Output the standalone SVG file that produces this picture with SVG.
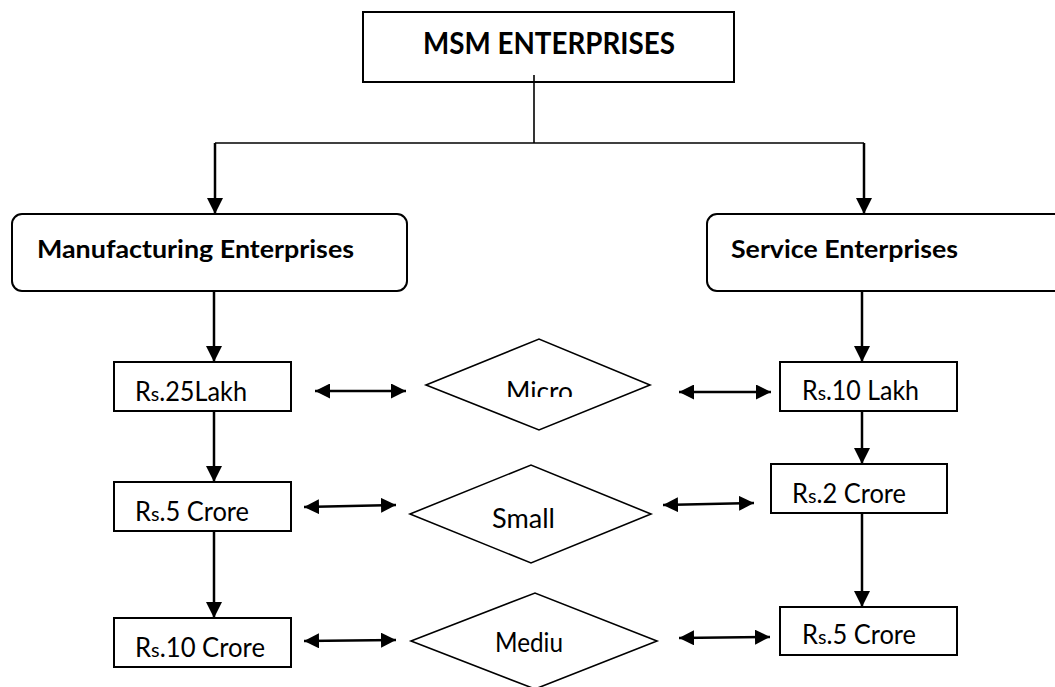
<svg xmlns="http://www.w3.org/2000/svg" width="1055" height="687" viewBox="0 0 1055 687">
<style>
.box{fill:#fff;stroke:#000;stroke-width:2}
.dia{fill:#fff;stroke:#000;stroke-width:1.6}
.t{font-family:Lato,"Open Sans","Liberation Sans",sans-serif;font-size:26px;fill:#000}
.b{font-weight:bold;font-size:25px}
.big{font-size:31px}
.c{fill:none;stroke:#000;stroke-width:2.5}
.thin{fill:none;stroke:#000;stroke-width:1.6}
.sm{font-size:20px}
</style>
<defs>
<marker id="ah" markerUnits="userSpaceOnUse" markerWidth="16" markerHeight="16" refX="16" refY="8" orient="auto"><path d="M0,0 L16,8 L0,16 z" fill="#000"/></marker>
<marker id="ha" markerUnits="userSpaceOnUse" markerWidth="15" markerHeight="15" refX="15" refY="7.5" orient="auto-start-reverse"><path d="M0,0 L15,7.5 L0,15 z" fill="#000"/></marker>
<clipPath id="microClip"><rect x="480" y="370" width="120" height="27"/></clipPath>
</defs>
<g id="connectors">
<line class="thin" x1="534" y1="75" x2="534" y2="143"/>
<polyline class="thin" points="215,143 864,143"/>
<line class="c" x1="215" y1="143" x2="215" y2="214" marker-end="url(#ah)"/>
<line class="c" x1="864" y1="143" x2="864" y2="214" marker-end="url(#ah)"/>
<line class="c" x1="214" y1="291" x2="214" y2="362" marker-end="url(#ah)"/>
<line class="c" x1="214" y1="411" x2="214" y2="482" marker-end="url(#ah)"/>
<line class="c" x1="214" y1="531" x2="214" y2="618" marker-end="url(#ah)"/>
<line class="c" x1="862" y1="291" x2="862" y2="362" marker-end="url(#ah)"/>
<line class="c" x1="862" y1="411" x2="862" y2="464" marker-end="url(#ah)"/>
<line class="c" x1="862" y1="513" x2="862" y2="607" marker-end="url(#ah)"/>
<line class="c" x1="315" y1="391" x2="406" y2="391" marker-start="url(#ha)" marker-end="url(#ha)"/>
<line class="c" x1="679" y1="392" x2="771" y2="392" marker-start="url(#ha)" marker-end="url(#ha)"/>
<line class="c" x1="304" y1="507" x2="396" y2="505" marker-start="url(#ha)" marker-end="url(#ha)"/>
<line class="c" x1="663" y1="505" x2="754" y2="503" marker-start="url(#ha)" marker-end="url(#ha)"/>
<line class="c" x1="304" y1="641" x2="396" y2="640" marker-start="url(#ha)" marker-end="url(#ha)"/>
<line class="c" x1="679" y1="638" x2="770" y2="637" marker-start="url(#ha)" marker-end="url(#ha)"/>
</g>
<g id="msm">
<rect class="box" x="363" y="12" width="371" height="70"/>
<text class="t b big" x="423" y="54" textLength="252" lengthAdjust="spacingAndGlyphs">MSM ENTERPRISES</text>
</g>
<line class="thin" x1="534" y1="75" x2="534" y2="82"/>
<g id="manufacturing">
<rect class="box" x="12" y="214" width="395" height="77" rx="10"/>
<text class="t b" x="37" y="258" textLength="317" lengthAdjust="spacingAndGlyphs">Manufacturing Enterprises</text>
</g>
<g id="service">
<rect class="box" x="707" y="214" width="360" height="77" rx="10"/>
<text class="t b" x="731" y="258" textLength="227" lengthAdjust="spacingAndGlyphs">Service Enterprises</text>
</g>
<g id="m1">
<rect class="box" x="114" y="362" width="177" height="49"/>
<text class="t" x="135" y="401" textLength="112" lengthAdjust="spacingAndGlyphs">R<tspan class="sm">s</tspan>.25Lakh</text>
</g>
<g id="m2">
<rect class="box" x="114" y="482" width="177" height="49"/>
<text class="t" x="135" y="521" textLength="114" lengthAdjust="spacingAndGlyphs">R<tspan class="sm">s</tspan>.5 Crore</text>
</g>
<g id="m3">
<rect class="box" x="114" y="618" width="177" height="49"/>
<text class="t" x="135" y="657" textLength="130" lengthAdjust="spacingAndGlyphs">R<tspan class="sm">s</tspan>.10 Crore</text>
</g>
<g id="s1">
<rect class="box" x="780" y="362" width="177" height="49"/>
<text class="t" x="802" y="400" textLength="117" lengthAdjust="spacingAndGlyphs">R<tspan class="sm">s</tspan>.10 Lakh</text>
</g>
<g id="s2">
<rect class="box" x="771" y="464" width="176" height="49"/>
<text class="t" x="792" y="503" textLength="114" lengthAdjust="spacingAndGlyphs">R<tspan class="sm">s</tspan>.2 Crore</text>
</g>
<g id="s3">
<rect class="box" x="780" y="607" width="177" height="48"/>
<text class="t" x="802" y="644" textLength="114" lengthAdjust="spacingAndGlyphs">R<tspan class="sm">s</tspan>.5 Crore</text>
</g>
<g id="micro">
<polygon class="dia" points="426,385 539,339 650,385 539,430"/>
<text class="t" x="506" y="401" clip-path="url(#microClip)" textLength="67" lengthAdjust="spacingAndGlyphs">Micro</text>
</g>
<g id="small">
<polygon class="dia" points="410,514 531,465 651,514 531,563"/>
<text class="t" x="492" y="528" textLength="63" lengthAdjust="spacingAndGlyphs">Small</text>
</g>
<g id="medium">
<polygon class="dia" points="411,641 535,593 657,641 535,689"/>
<text class="t" x="495" y="652" textLength="68" lengthAdjust="spacingAndGlyphs">Mediu</text>
</g>
</svg>
